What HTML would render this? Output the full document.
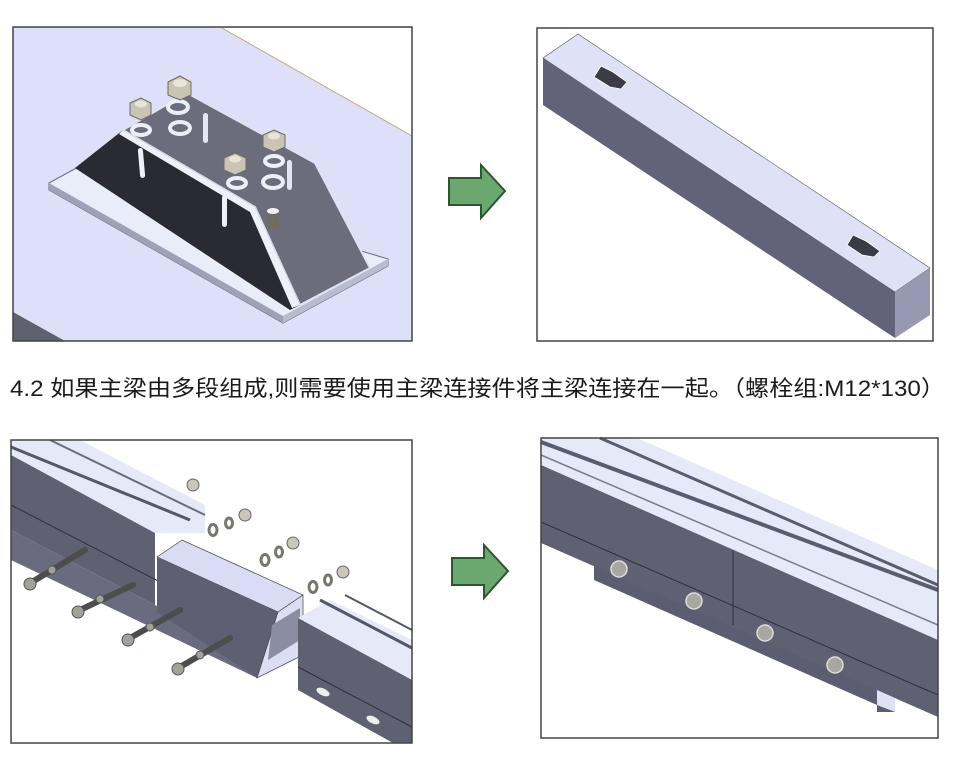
<!DOCTYPE html>
<html><head><meta charset="utf-8"><style>
html,body{margin:0;padding:0;background:#fff;}
svg{display:block;}
</style></head><body>
<svg width="980" height="765" viewBox="0 0 980 765" xmlns="http://www.w3.org/2000/svg">
<rect width="980" height="765" fill="#fff"/>

<!-- TL panel -->
<rect x="13" y="27" width="399" height="314" fill="#dde0f8"/>
<polygon points="222,28 412,28 412,136" fill="#fff"/>
<line x1="222" y1="28" x2="412" y2="136" stroke="#c9a77a" stroke-width="1"/>
<polygon points="13,312 13,341 65,341" fill="#5f6070"/>
<polygon points="49,183 80,166 388,259 388,266 283,323 49,190" fill="#e9ecf9" stroke="#6a6c80" stroke-width="1"/>
<polygon points="49,190 283,323 283,316 49,183" fill="#9ea2b8"/>
<polygon points="283,323 388,266 388,259 283,316" fill="#b8bcd0"/>
<polygon points="123,130 187,93 315,163 370,268 300,305 255,207" fill="#6b6d7c" stroke="#dfe2f2" stroke-width="2"/>
<polygon points="75,168 123,130 255,207 300,305 290,310" fill="#2a2b32"/>
<polygon points="123,130 255,207 300,305 292,308 250,212 119,134" fill="#eef0fa"/>
<rect x="139" y="148" width="5" height="30" rx="2.5" fill="#eef0fa" transform="rotate(-5 141 163)"/>
<rect x="222" y="195" width="5" height="32" rx="2.5" fill="#eef0fa"/>
<rect x="203" y="113" width="5" height="30" rx="2.5" fill="#e4e6f4"/>
<rect x="287" y="160" width="5" height="30" rx="2.5" fill="#e4e6f4"/>
<g fill="none" stroke="#eceef8" stroke-width="4">
<ellipse cx="178" cy="107" rx="10" ry="6"/><ellipse cx="141" cy="130" rx="9" ry="5"/>
<ellipse cx="180" cy="128" rx="10" ry="6"/><ellipse cx="274" cy="161" rx="9" ry="5"/>
<ellipse cx="237" cy="183" rx="9" ry="5"/><ellipse cx="273" cy="182" rx="10" ry="6"/>
</g>
<g fill="#c9c4b4" stroke="#6e6a60" stroke-width="1">
<polygon points="168,82 180,76 191,82 191,95 180,100 168,95"/>
<polygon points="130,103 141,98 151,103 151,115 141,120 130,115"/>
<polygon points="263,135 274,130 285,135 285,147 274,152 263,147"/>
<polygon points="224,158 235,153 246,158 246,170 235,175 224,170"/>
</g>
<g fill="#e8e4d8"><ellipse cx="180" cy="83" rx="7" ry="4"/><ellipse cx="141" cy="104" rx="6" ry="3.5"/><ellipse cx="274" cy="136" rx="6" ry="3.5"/><ellipse cx="235" cy="159" rx="6" ry="3.5"/></g>
<rect x="267" y="211" width="12" height="18" fill="#6e6c64"/><ellipse cx="273" cy="211" rx="6" ry="3" fill="#f4f4f4"/>
<rect x="13" y="27" width="399" height="314" fill="none" stroke="#444" stroke-width="1.5"/>

<!-- arrows -->
<polygon points="449,178 481,178 481,165 505,191 481,218 481,205 449,205" fill="#6aa870" stroke="#2d5530" stroke-width="2"/>
<polygon points="452,558 484,558 484,545 508,571 484,598 484,585 452,585" fill="#6aa870" stroke="#2d5530" stroke-width="2"/>

<!-- TR panel -->
<rect x="537" y="28" width="396" height="313" fill="#fff" stroke="#444" stroke-width="1.5"/>
<polygon points="543,58 578,34 930,268 895,292" fill="#dfe1f7" stroke="#555" stroke-width="0.6"/>
<polygon points="543,58 895,292 895,338 543,105" fill="#62637a"/>
<polygon points="895,292 930,268 930,315 895,338" fill="#9799b2"/>
<polygon points="594,77 601,66 613,72 627,82 621,89 610,87" fill="#3a3b44" stroke="#fff" stroke-width="0.8"/>
<polygon points="847,245 853,235 866,241 880,251 874,257 862,255" fill="#3a3b44" stroke="#fff" stroke-width="0.8"/>

<!-- caption -->
<text x="10" y="396" font-family="'Liberation Sans','Noto Sans CJK SC',sans-serif" font-size="22" fill="#1a1a1a" textLength="935" lengthAdjust="spacingAndGlyphs">4.2 如果主梁由多段组成,则需要使用主梁连接件将主梁连接在一起。（螺栓组:M12*130）</text>

<!-- BL panel -->
<rect x="11" y="440" width="401" height="303" fill="#fff"/>
<polygon points="11,440 80,440 205,505 205,533 155,533 11,455" fill="#e6e9f7"/>
<line x1="11" y1="447" x2="190" y2="520" stroke="#55576a" stroke-width="3"/>
<line x1="50" y1="440" x2="205" y2="515" stroke="#6a6c80" stroke-width="2"/>
<polygon points="11,455 155,533 155,605 11,530" fill="#5f6072"/>
<polygon points="11,530 155,605 240,650 257,678 11,560" fill="#6a6b7e"/>
<line x1="11" y1="505" x2="257" y2="632" stroke="#2e2f38" stroke-width="1"/>
<polygon points="157,557 182,540 303,595 278,612" fill="#d9dcf4" stroke="#444" stroke-width="0.7"/>
<polygon points="157,557 278,612 257,678 157,612" fill="#5e5f72"/>
<polygon points="278,612 303,595 303,655 257,678" fill="#dcdff4" stroke="#444" stroke-width="0.7"/>
<polygon points="272,625 300,608 300,640 268,660" fill="#8b8da3"/>
<polygon points="298,618 330,600 412,640 412,680" fill="#e6e9f7"/>
<line x1="320" y1="600" x2="412" y2="648" stroke="#55576a" stroke-width="3"/>
<line x1="345" y1="595" x2="412" y2="630" stroke="#55576a" stroke-width="2"/>
<polygon points="298,618 412,680 412,743 393,743 298,690" fill="#5f6072"/>
<line x1="298" y1="667" x2="412" y2="727" stroke="#2e2f38" stroke-width="1"/>
<ellipse cx="323" cy="692" rx="7" ry="3.5" fill="#eee" transform="rotate(25 323 692)"/>
<ellipse cx="373" cy="720" rx="7" ry="3.5" fill="#eee" transform="rotate(25 373 720)"/>
<g stroke="#4d4d4d" stroke-width="6" stroke-linecap="round">
<line x1="32" y1="582" x2="85" y2="550"/><line x1="80" y1="610" x2="133" y2="585"/>
<line x1="130" y1="638" x2="180" y2="610"/><line x1="180" y1="667" x2="230" y2="638"/>
</g>
<g fill="#a3a29a" stroke="#555" stroke-width="1">
<circle cx="30" cy="584" r="6"/><circle cx="78" cy="612" r="6"/><circle cx="128" cy="640" r="6"/><circle cx="178" cy="669" r="6"/>
<circle cx="52" cy="570" r="4"/><circle cx="100" cy="599" r="4"/><circle cx="150" cy="627" r="4"/><circle cx="200" cy="655" r="4"/>
</g>
<g fill="none" stroke="#77776f" stroke-width="3">
<ellipse cx="213" cy="530" rx="4" ry="5.5"/><ellipse cx="229" cy="523" rx="3.5" ry="5"/>
<ellipse cx="265" cy="560" rx="4" ry="5.5"/><ellipse cx="279" cy="552" rx="3.5" ry="5"/>
<ellipse cx="313" cy="587" rx="4" ry="5.5"/><ellipse cx="328" cy="580" rx="3.5" ry="5"/>
</g>
<g fill="#c9c6ba" stroke="#666" stroke-width="1">
<circle cx="193" cy="485" r="6"/><circle cx="245" cy="515" r="6"/><circle cx="293" cy="543" r="6"/><circle cx="343" cy="572" r="6"/>
</g>
<rect x="11" y="440" width="401" height="303" fill="none" stroke="#444" stroke-width="1.5"/>

<!-- BR panel -->
<rect x="541" y="438" width="397" height="300" fill="#fff"/>
<polygon points="541,438 637,438 938,570 938,640 541,465" fill="#e6e9f7"/>
<line x1="541" y1="442" x2="938" y2="590" stroke="#5a5c70" stroke-width="4"/>
<line x1="600" y1="438" x2="938" y2="585" stroke="#5a5c70" stroke-width="3"/>
<line x1="541" y1="455" x2="938" y2="625" stroke="#7a7c90" stroke-width="1.5"/>
<polygon points="594,562 594,580 877,705 877,712 895,712 895,690" fill="#5c5d70"/>
<polygon points="541,465 938,640 938,717 541,543" fill="#5f6072"/>
<line x1="541" y1="522" x2="938" y2="695" stroke="#2e2f38" stroke-width="1"/>
<line x1="733" y1="550" x2="733" y2="625" stroke="#2e2f38" stroke-width="1"/>
<polygon points="877,690 895,698 895,712 877,705" fill="#dfe2f4"/>
<g fill="#a9a8a0" stroke="#ddd" stroke-width="1.5">
<circle cx="619" cy="569" r="8"/><circle cx="694" cy="601" r="8"/><circle cx="765" cy="633" r="8"/><circle cx="835" cy="665" r="8"/>
</g>
<rect x="541" y="438" width="397" height="300" fill="none" stroke="#444" stroke-width="1.5"/>
</svg>
</body></html>
